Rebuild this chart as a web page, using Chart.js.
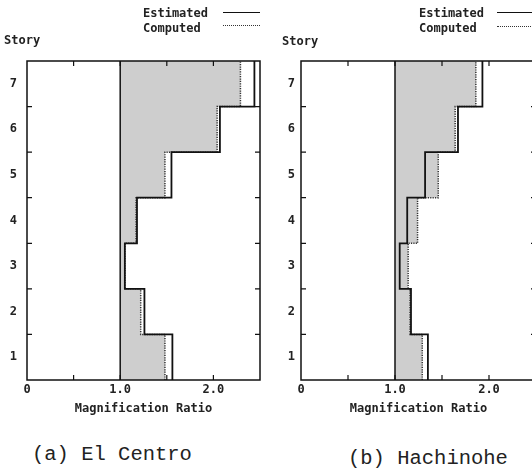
<!DOCTYPE html>
<html>
<head>
<meta charset="utf-8">
<script src="https://cdn.jsdelivr.net/npm/chart.js@4.4.1/dist/chart.umd.min.js"></script>
<style>
  html, body { margin: 0; padding: 0; background: #fff; overflow: hidden; width: 532px; height: 469px; }
  #wrap { position: relative; width: 532px; height: 469px; overflow: hidden; }
  canvas { position: absolute; top: 0; }
  .txt { position: absolute; font-family: "DejaVu Sans Mono", monospace; font-size: 12px; font-weight: bold; line-height: 14px; color: #222; white-space: pre; }
  .cap { position: absolute; font-family: "Liberation Mono", monospace; font-size: 20.5px; line-height: 24px; color: #222; white-space: pre; }
  .solid { position: absolute; height: 0; border-top: 1.5px solid #111; }
  .dots { position: absolute; height: 0; border-top: 1.5px dotted #333; }
</style>
</head>
<body>
<div id="wrap">
  <canvas id="chartA" width="266" height="420" style="left:0px"></canvas>
  <canvas id="chartB" width="268" height="420" style="left:274px"></canvas>

  <div class="txt" style="left:143px; top:6px">Estimated</div>
  <div class="txt" style="left:143px; top:21px">Computed</div>
  <div class="solid" style="left:223px; top:12px; width:37px"></div>
  <div class="dots" style="left:223px; top:25px; width:37px"></div>
  <div class="txt" style="left:4px; top:33px">Story</div>

  <div class="txt" style="left:419px; top:6px">Estimated</div>
  <div class="txt" style="left:419px; top:21px">Computed</div>
  <div class="solid" style="left:497px; top:12px; width:40px"></div>
  <div class="dots" style="left:497px; top:26px; width:40px"></div>
  <div class="txt" style="left:282px; top:34px">Story</div>

  <div class="cap" style="left:32px; top:443px">(a) El Centro</div>
  <div class="cap" style="left:348px; top:447px">(b) Hachinohe</div>
</div>
<script>
// Данные
const STORIES = [1, 2, 3, 4, 5, 6, 7];
const STORY_BOUNDS = [1.5, 2.5, 3.5, 4.5, 5.5, 6.5];
const X_TICKS = [0, 1, 2];
const X_TICK_LABELS = ['0', '1.0', '2.0'];
const X_MINOR = [0.5, 1, 1.5, 2];
const BASE = 1.0;

const elCentroEstimated = [1.56, 1.26, 1.05, 1.18, 1.55, 2.07, 2.44];
const elCentroComputed  = [1.48, 1.22, 1.05, 1.17, 1.48, 2.04, 2.29];
const hachinoheEstimated = [1.35, 1.17, 1.05, 1.13, 1.32, 1.67, 1.93];
const hachinoheComputed  = [1.29, 1.16, 1.14, 1.24, 1.46, 1.64, 1.86];

const FONT = { family: 'DejaVu Sans Mono', size: 12, weight: 'bold' };
const INK = '#111';

// ступенчатый профиль по этажам
let stepPoints = (values) => {
  let pts = [];
  values.forEach((v, i) => {
    pts.push({ x: v, y: STORIES[i] - 0.5 });
    pts.push({ x: v, y: STORIES[i] + 0.5 });
  });
  return pts;
};

let framePlugin = {
  id: 'frame',
  afterDatasetsDraw(chart) {
    let { ctx, chartArea: a, scales: { x, y } } = chart;
    ctx.save();
    ctx.strokeStyle = INK;
    ctx.lineWidth = 1.5;
    ctx.strokeRect(a.left, a.top, a.right - a.left, a.bottom - a.top);
    ctx.lineWidth = 1.2;
    ctx.beginPath();
    X_MINOR.forEach(v => {
      let px = x.getPixelForValue(v);
      ctx.moveTo(px, a.bottom); ctx.lineTo(px, a.bottom - 5);
      ctx.moveTo(px, a.top); ctx.lineTo(px, a.top + 5);
    });
    STORY_BOUNDS.forEach(v => {
      let py = y.getPixelForValue(v);
      ctx.moveTo(a.left, py); ctx.lineTo(a.left + 5, py);
      ctx.moveTo(a.right, py); ctx.lineTo(a.right - 5, py);
    });
    ctx.stroke();
    ctx.restore();
  }
};

let createProfileChart = (canvasId, estimated, computed, labelPad) => {
  let ctx = document.getElementById(canvasId).getContext('2d');
  let lastStory = STORIES[STORIES.length - 1];
  let shade = stepPoints(computed).concat([
    { x: BASE, y: lastStory + 0.5 },
    { x: BASE, y: STORIES[0] - 0.5 }
  ]);
  let config = {
    type: 'scatter',
    data: {
      datasets: [
        {
          label: 'shade',
          data: shade,
          showLine: true,
          fill: 'shape',
          backgroundColor: '#cecece',
          borderWidth: 0,
          pointRadius: 0,
          order: 4
        },
        {
          label: 'base',
          data: [{ x: BASE, y: STORIES[0] - 0.5 }, { x: BASE, y: lastStory + 0.5 }],
          showLine: true,
          borderColor: INK,
          borderWidth: 1.5,
          pointRadius: 0,
          order: 3
        },
        {
          label: 'Computed',
          data: stepPoints(computed),
          showLine: true,
          borderColor: '#333',
          borderWidth: 1.5,
          borderDash: [1.2, 1.2],
          pointRadius: 0,
          order: 2
        },
        {
          label: 'Estimated',
          data: stepPoints(estimated),
          showLine: true,
          borderColor: INK,
          borderWidth: 1.8,
          pointRadius: 0,
          order: 1
        }
      ]
    },
    options: {
      responsive: false,
      animation: false,
      devicePixelRatio: 1,
      layout: { padding: { top: 61, right: 6, left: 0, bottom: 0 } },
      scales: {
        x: {
          type: 'linear',
          min: 0,
          max: 2.5,
          afterBuildTicks: s => { s.ticks = X_TICKS.map(v => ({ value: v })); },
          afterFit: s => { s.height = 40; },
          ticks: {
            font: FONT,
            color: '#222',
            padding: 3,
            maxRotation: 0,
            callback: (v) => X_TICK_LABELS[X_TICKS.indexOf(v)]
          },
          grid: { display: false, drawTicks: false },
          border: { display: false },
          title: {
            display: true,
            text: 'Magnification Ratio',
            font: FONT,
            color: '#222',
            padding: { top: 0, bottom: 4 }
          }
        },
        y: {
          type: 'linear',
          min: 0.5,
          max: 7.5,
          afterBuildTicks: s => { s.ticks = STORIES.map(v => ({ value: v })); },
          afterFit: s => { s.width = 27; },
          ticks: {
            font: FONT,
            color: '#222',
            padding: labelPad,
            callback: (v) => String(v)
          },
          grid: { display: false, drawTicks: false },
          border: { display: false }
        }
      },
      plugins: {
        legend: { display: false },
        tooltip: { enabled: false }
      }
    },
    plugins: [framePlugin]
  };
  return new Chart(ctx, config);
};

createProfileChart('chartA', elCentroEstimated, elCentroComputed, 10);
createProfileChart('chartB', hachinoheEstimated, hachinoheComputed, 6);
</script>
</body>
</html>
